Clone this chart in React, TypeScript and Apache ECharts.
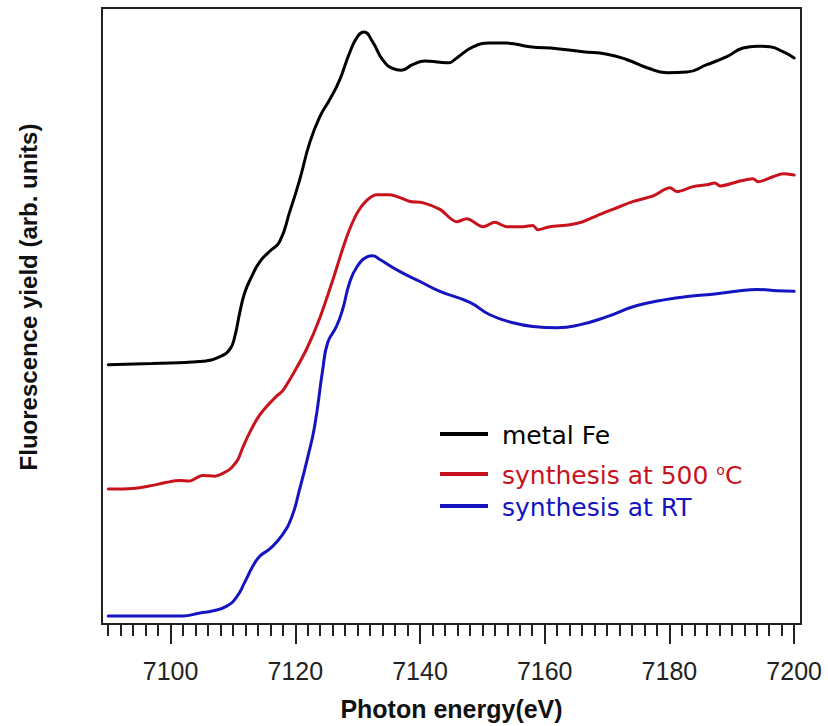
import React, { useEffect, useRef } from "react";
import * as echarts from "echarts";

// ---- data ----
const feEnergy = [7090, 7097, 7104.7, 7107.9, 7109.5, 7110.3, 7111.1, 7111.9, 7113.0, 7114.3, 7115.9, 7117.5, 7119.1, 7120.7, 7122.3, 7123.9, 7125.5, 7127.1, 7128.7, 7130.0, 7131.0, 7132.4, 7134.0, 7135.6, 7137.0, 7138.8, 7140.8, 7143.2, 7144.5, 7145.9, 7148.5, 7151.2, 7153.9, 7157.6, 7162.0, 7166.1, 7170.0, 7173.2, 7176.4, 7179.6, 7182.8, 7186.0, 7189.2, 7191.8, 7194.1, 7196.1, 7198.2, 7200];
const feYield = [42.1, 42.3, 42.6, 43.4, 44.6, 46.7, 50.6, 53.8, 56.4, 58.8, 60.5, 62.1, 66.9, 72.1, 78.1, 82.3, 85.1, 88.3, 92.7, 95.4, 96.1, 94.5, 91.6, 90.2, 89.9, 90.8, 91.4, 91.2, 91.1, 91.9, 93.7, 94.3, 94.3, 93.7, 93.4, 92.9, 92.5, 91.6, 90.3, 89.5, 89.6, 90.8, 92.1, 93.5, 93.8, 93.7, 92.9, 91.9];

const hotEnergy = [7090, 7093.9, 7096.6, 7099.4, 7101.4, 7103.0, 7105.1, 7107.1, 7109.0, 7109.8, 7110.8, 7111.6, 7112.7, 7114.0, 7115.4, 7117.0, 7118.0, 7119.6, 7121.8, 7123.9, 7126.0, 7128.2, 7129.9, 7131.5, 7133.1, 7135.1, 7138.4, 7140.4, 7143.2, 7145.9, 7147.5, 7150.1, 7152.0, 7153.9, 7156.5, 7158.1, 7158.9, 7160.8, 7164.0, 7166.1, 7168.4, 7170.9, 7174.2, 7177.4, 7180.1, 7181.2, 7183.8, 7186.0, 7187.3, 7188.1, 7190.9, 7193.4, 7194.2, 7196.6, 7198.2, 7200];
const hotYield = [21.9, 22.0, 22.4, 23.0, 23.3, 23.2, 24.1, 24.0, 24.8, 25.4, 26.7, 28.7, 31.1, 33.5, 35.3, 37.0, 37.9, 40.5, 44.6, 49.6, 55.8, 62.7, 66.7, 68.8, 69.7, 69.7, 68.6, 68.4, 67.3, 65.3, 65.8, 64.5, 65.2, 64.5, 64.5, 64.7, 64.0, 64.5, 64.8, 65.3, 66.3, 67.3, 68.6, 69.5, 70.8, 70.2, 71.0, 71.3, 71.6, 71.1, 71.8, 72.3, 71.8, 72.6, 73.1, 72.9];

const rtEnergy = [7090, 7101.9, 7104.7, 7106.7, 7109.0, 7110.6, 7111.9, 7113.2, 7114.3, 7115.9, 7117.8, 7119.4, 7120.7, 7122.0, 7123.1, 7124.4, 7125.2, 7126.6, 7127.6, 7128.7, 7129.9, 7131.5, 7132.4, 7133.5, 7136.8, 7140.0, 7143.2, 7148.0, 7151.2, 7154.9, 7158.1, 7162.0, 7165.7, 7170.0, 7174.8, 7179.6, 7183.3, 7187.6, 7191.3, 7194.1, 7197.3, 7200];
const rtYield = [1.3, 1.3, 1.8, 2.1, 2.9, 4.4, 6.8, 9.4, 11.0, 12.2, 14.3, 17.3, 21.9, 27.1, 32.1, 41.3, 45.7, 48.3, 51.1, 55.4, 58.0, 59.6, 59.8, 59.2, 57.2, 55.6, 54.0, 52.2, 50.2, 48.9, 48.3, 48.1, 48.6, 49.9, 51.7, 52.7, 53.2, 53.6, 54.1, 54.3, 54.1, 54.0];

const seriesNames = ["metal Fe", "synthesis at 500 °C", "synthesis at RT"];
const majorTicks = [7100, 7120, 7140, 7160, 7180, 7200];
const minorStart = 7090;
const minorStep = 2;

const FONT = "'Liberation Sans', Arial, Helvetica, sans-serif";
const LEGEND_FONT = "'DejaVu Sans', Verdana, sans-serif";
const BLACK = "#000000";
const RED = "#c8121e";
const BLUE = "#1414c0";

function pairs(xs: number[], ys: number[]) {
  return xs.map((x, i) => [x, ys[i]]);
}

export default function App() {
  const ref = useRef<HTMLDivElement>(null);
  useEffect(() => {
    if (!ref.current) return;
    const chart = echarts.init(ref.current, null, { renderer: "svg" });
    const minorTicks: number[] = [];
    for (let v = minorStart; v <= 7200; v += minorStep) minorTicks.push(v);

    const lineSeries = (name: string, data: number[][], color: string, smooth: number) => ({
      name,
      type: "line",
      data,
      showSymbol: false,
      symbol: "none",
      smooth,
      lineStyle: { color, width: 3, join: "round", cap: "round" },
      itemStyle: { color },
      xAxisIndex: 0,
      yAxisIndex: 0,
    });

    const legendRow = (y: number, color: string, text: string, rich?: any) => [
      {
        type: "line",
        shape: { x1: 440, y1: y, x2: 488, y2: y },
        style: { stroke: color, lineWidth: 4 },
      },
      {
        type: "text",
        x: 502,
        y: y + 1,
        style: {
          text,
          fill: color,
          fontSize: 25,
          fontFamily: LEGEND_FONT,
          align: "left",
          verticalAlign: "middle",
          textAlign: "left",
          textVerticalAlign: "middle",
          rich,
        },
      },
    ];

    chart.setOption({
      animation: false,
      backgroundColor: "#ffffff",
      grid: {
        left: 102,
        top: 8,
        width: 699,
        height: 617,
        show: true,
        borderColor: "#222222",
        borderWidth: 2,
        backgroundColor: "transparent",
        containLabel: false,
      },
      xAxis: [
        {
          type: "value",
          min: 7089,
          max: 7201.1,
          position: "bottom",
          axisLine: { show: false, onZero: false },
          splitLine: { show: false },
          axisTick: {
            show: true,
            inside: false,
            length: 12,
            customValues: minorTicks,
            lineStyle: { color: "#222222", width: 2 },
          },
          axisLabel: {
            customValues: majorTicks,
            margin: 34,
            fontSize: 25,
            color: "#222222",
            fontFamily: FONT,
            formatter: (v: number) => String(v),
          },
          name: "Photon energy(eV)",
          nameLocation: "middle",
          nameGap: 72,
          nameTextStyle: { fontSize: 25, fontWeight: "bold", color: "#111111", fontFamily: FONT },
        },
        {
          type: "value",
          min: 7089,
          max: 7201.1,
          position: "bottom",
          axisLine: { show: false, onZero: false },
          splitLine: { show: false },
          axisLabel: { show: false },
          axisTick: {
            show: true,
            inside: false,
            length: 20,
            customValues: majorTicks,
            lineStyle: { color: "#222222", width: 2 },
          },
        },
      ],
      yAxis: {
        type: "value",
        min: 0,
        max: 100,
        axisLine: { show: false },
        axisTick: { show: false },
        axisLabel: { show: false },
        splitLine: { show: false },
      },
      series: [
        lineSeries(seriesNames[0], pairs(feEnergy, feYield), BLACK, 0.5),
        lineSeries(seriesNames[1], pairs(hotEnergy, hotYield), RED, 0.3),
        lineSeries(seriesNames[2], pairs(rtEnergy, rtYield), BLUE, 0.5),
      ],
      graphic: [
        {
          type: "text",
          x: 28,
          y: 297,
          rotation: Math.PI / 2,
          style: {
            text: "Fluorescence yield (arb. units)",
            fill: "#111111",
            fontSize: 24,
            fontWeight: "bold",
            fontFamily: FONT,
            align: "center",
            verticalAlign: "middle",
            textAlign: "center",
            textVerticalAlign: "middle",
          },
        },
        ...legendRow(434, BLACK, seriesNames[0]),
        ...legendRow(474, RED, "synthesis at 500 {sup|o}C", {
          sup: { fontSize: 14, verticalAlign: "top", fontFamily: LEGEND_FONT, fill: RED, color: RED },
        }),
        ...legendRow(506, BLUE, seriesNames[2]),
      ],
    });
    return () => chart.dispose();
  }, []);

  return (
    <div
      ref={ref}
      style={{ position: "absolute", left: 0, top: 0, width: 828, height: 726, background: "#fff" }}
    />
  );
}
